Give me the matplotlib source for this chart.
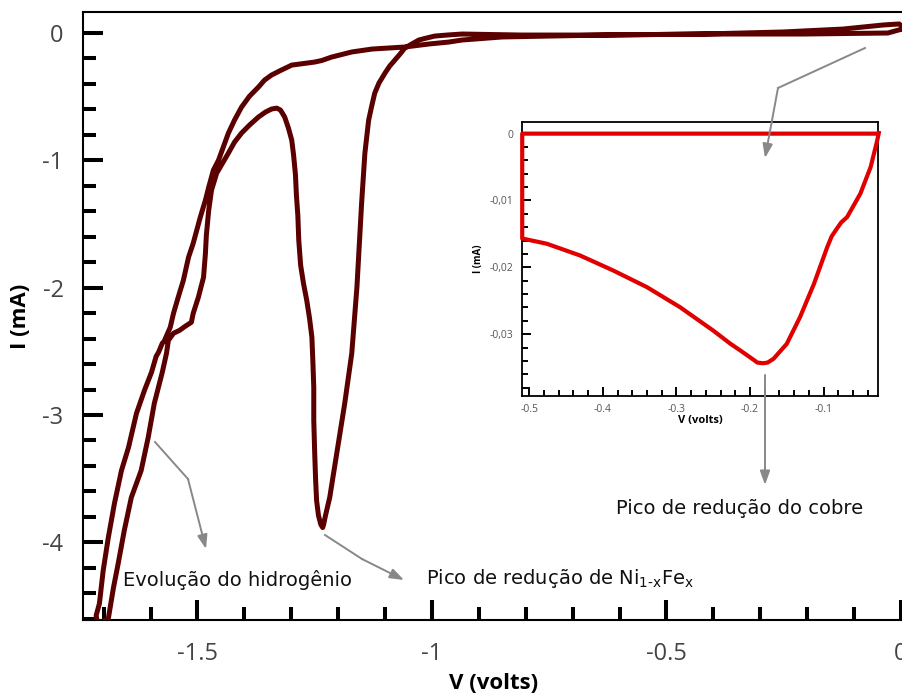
import matplotlib
matplotlib.use("Agg")
import matplotlib.pyplot as plt
from matplotlib.ticker import MultipleLocator, FuncFormatter
from matplotlib.patches import FancyArrowPatch
from matplotlib.lines import Line2D

plt.rcParams['axes.unicode_minus'] = False

# voltammogram of the Ni(1-x)Fe(x) deposit, cathodic sweep then return
v_cath = [0.002, -0.028, -0.209, -0.423, -0.637, -0.808, -0.936, -0.968, -0.994, -1.011,
          -1.028, -1.043, -1.058, -1.068, -1.079, -1.090, -1.100, -1.113, -1.122, -1.128,
          -1.135, -1.143, -1.150, -1.160, -1.171, -1.186, -1.203, -1.218, -1.227, -1.231,
          -1.233, -1.237, -1.242, -1.246, -1.248, -1.250, -1.252, -1.252, -1.254, -1.256,
          -1.261, -1.267, -1.274, -1.280, -1.284, -1.286, -1.289, -1.291, -1.295, -1.299,
          -1.306, -1.314, -1.323, -1.331, -1.342, -1.355, -1.370, -1.389, -1.406, -1.421,
          -1.434, -1.459, -1.470, -1.476, -1.481, -1.483, -1.487, -1.498, -1.509, -1.513,
          -1.526, -1.538, -1.551, -1.562, -1.566, -1.575, -1.592, -1.605, -1.620, -1.641,
          -1.656, -1.669, -1.679, -1.690, -1.703, -1.714]
i_cath = [0.031, 0.0, -0.008, -0.008, -0.016, -0.016, -0.008, -0.016, -0.024, -0.039,
          -0.055, -0.086, -0.118, -0.165, -0.212, -0.259, -0.314, -0.393, -0.472, -0.566,
          -0.684, -0.943, -1.336, -1.997, -2.516, -2.909, -3.302, -3.648, -3.789, -3.860,
          -3.884, -3.860, -3.789, -3.671, -3.514, -3.302, -3.042, -2.783, -2.571, -2.390,
          -2.241, -2.099, -1.965, -1.824, -1.627, -1.431, -1.274, -1.116, -0.959, -0.841,
          -0.747, -0.660, -0.605, -0.590, -0.597, -0.621, -0.660, -0.723, -0.786, -0.857,
          -0.943, -1.101, -1.234, -1.392, -1.588, -1.730, -1.918, -2.075, -2.201, -2.272,
          -2.303, -2.335, -2.358, -2.414, -2.516, -2.665, -2.909, -3.176, -3.436, -3.648,
          -3.907, -4.167, -4.355, -4.599, -4.631, -4.615]
v_anod = [-1.716, -1.709, -1.701, -1.690, -1.677, -1.662, -1.647, -1.630, -1.613, -1.598,
          -1.588, -1.583, -1.575, -1.571, -1.558, -1.551, -1.541, -1.530, -1.519, -1.509,
          -1.494, -1.483, -1.476, -1.466, -1.455, -1.434, -1.421, -1.406, -1.389, -1.370,
          -1.357, -1.342, -1.321, -1.299, -1.250, -1.235, -1.214, -1.171, -1.128, -1.058,
          -1.006, -0.964, -0.936, -0.850, -0.637, -0.423, -0.252, -0.124, -0.038, -0.004,
          0.004, 0.002]
i_anod = [-4.575, -4.481, -4.222, -3.962, -3.695, -3.436, -3.255, -2.987, -2.807, -2.665,
          -2.539, -2.508, -2.437, -2.421, -2.311, -2.201, -2.075, -1.942, -1.761, -1.651,
          -1.447, -1.313, -1.211, -1.077, -0.998, -0.786, -0.684, -0.582, -0.496, -0.425,
          -0.370, -0.330, -0.291, -0.252, -0.228, -0.216, -0.189, -0.149, -0.126, -0.110,
          -0.086, -0.071, -0.055, -0.031, -0.016, -0.008, 0.008, 0.031, 0.063, 0.071,
          0.047, 0.031]

# copper reduction detail (inset)
v_cu = [-0.026, -0.5095, -0.5095, -0.508, -0.476, -0.431, -0.386, -0.340, -0.295, -0.250,
        -0.227, -0.213, -0.195, -0.190, -0.182, -0.176, -0.168, -0.150, -0.132, -0.113,
        -0.095, -0.089, -0.082, -0.076, -0.068, -0.050, -0.036, -0.027, -0.025]
i_cu = [0.0, 0.0, -0.0157, -0.01572, -0.01647, -0.01822, -0.02046, -0.02296, -0.02596,
        -0.02945, -0.03139, -0.03244, -0.03383, -0.03424, -0.03434, -0.03424, -0.03368,
        -0.03144, -0.02745, -0.02246, -0.01698, -0.01537, -0.01422, -0.01328, -0.01248,
        -0.00898, -0.00500, -0.00100, 0.0001]

W, H = 902, 695
fig = plt.figure(figsize=(W / 100, H / 100), dpi=100)

def fpt(x, y):
    return x / W, 1 - y / H

# main axes
ax = fig.add_axes([83 / W, 75 / H, 822 / W, 608 / H])
ax.plot(v_cath + v_anod, i_cath + i_anod, color='#5b0000', lw=3.6,
        solid_joinstyle='round', zorder=3)
ax.set_xlim(-1.744, 0.0085)
ax.set_ylim(-4.61, 0.165)
ax.xaxis.set_major_locator(MultipleLocator(0.5))
ax.xaxis.set_minor_locator(MultipleLocator(0.1))
ax.yaxis.set_major_locator(MultipleLocator(1))
ax.yaxis.set_minor_locator(MultipleLocator(0.2))
ax.xaxis.set_major_formatter(FuncFormatter(lambda v, p: '%g' % round(v, 2)))
ax.yaxis.set_major_formatter(FuncFormatter(lambda v, p: '%g' % round(v, 2)))
ax.tick_params(which='both', direction='in', width=2.9, color='black',
               top=False, right=False)
ax.tick_params(which='major', length=14.4, labelsize=17, labelcolor='#444444')
ax.tick_params(axis='x', which='major', pad=16)
ax.tick_params(axis='y', which='major', pad=14)
ax.tick_params(which='minor', length=9.4)
for lab in ax.get_xticklabels() + ax.get_yticklabels():
    lab.set_family('Open Sans')
ax.spines['right'].set_visible(False)
for s in ('left', 'bottom', 'top'):
    ax.spines[s].set_linewidth(1.5)
ax.set_xlabel('V (volts)', fontsize=16, fontweight='bold', family='Open Sans',
              labelpad=5)
ax.set_ylabel('I (mA)', fontsize=16, fontweight='bold', family='Open Sans',
              labelpad=8)

# inset
axi = fig.add_axes([522 / W, (H - 396) / H, 356 / W, 274 / H])
axi.plot(v_cu, i_cu, color='#e00000', lw=3.0, clip_on=False, zorder=5,
         solid_joinstyle='round')
axi.set_xlim(-0.5098, -0.026)
axi.set_ylim(-0.03924, 0.00174)
axi.xaxis.set_major_locator(MultipleLocator(0.1))
axi.xaxis.set_minor_locator(MultipleLocator(0.02))
axi.yaxis.set_major_locator(MultipleLocator(0.01))
axi.yaxis.set_minor_locator(MultipleLocator(0.002))
axi.xaxis.set_major_formatter(FuncFormatter(lambda v, p: '%g' % round(v, 3)))
axi.yaxis.set_major_formatter(
    FuncFormatter(lambda v, p: ('%g' % round(v, 3)).replace('.', ',')))
axi.tick_params(which='both', direction='in', width=1.4, top=False, right=False)
axi.tick_params(which='major', length=6.5, pad=6, labelsize=7.5,
                labelcolor='#555555')
axi.tick_params(which='minor', length=4.3)
for lab in axi.get_xticklabels() + axi.get_yticklabels():
    lab.set_family('Open Sans')
for s in axi.spines.values():
    s.set_linewidth(1.3)
axi.set_xlabel('V (volts)', fontsize=8, fontweight='bold', family='Open Sans',
               labelpad=0)
axi.set_ylabel('I (mA)', fontsize=7, fontweight='bold', family='Open Sans',
               labelpad=4)

# annotation arrows, kinked, in figure pixels
arrow_paths = [
    [(155, 442), (188, 479), (206, 549)],
    [(325, 535), (362, 559), (404, 580)],
    [(865, 48), (778, 88), (765, 158)],
    [(765, 375), (765, 485)],
]
for path in arrow_paths:
    pts = [fpt(*p) for p in path]
    if len(pts) > 2:
        xs, ys = zip(*pts[:-1])
        fig.add_artist(Line2D(xs, ys, color='#888888', lw=1.4,
                              transform=fig.transFigure, zorder=10))
    fig.add_artist(FancyArrowPatch(pts[-2], pts[-1], transform=fig.transFigure,
                                   arrowstyle='-|>,head_length=0.7,head_width=0.25',
                                   mutation_scale=12, color='#888888', lw=1.4,
                                   shrinkA=0, shrinkB=0, zorder=10))

fig.text(*fpt(123, 580), 'Evolução do hidrogênio', fontsize=14, va='center',
         ha='left', color='#111111')
fig.text(*fpt(426, 578),
         r'Pico de redução de Ni$_{\mathregular{1\text{-}x}}$Fe$_{\mathregular{x}}$',
         fontsize=14, va='center', ha='left', color='#111111')
fig.text(*fpt(616, 508), 'Pico de redução do cobre', fontsize=14, va='center',
         ha='left', color='#111111')

fig.savefig('out.png', dpi=100)
